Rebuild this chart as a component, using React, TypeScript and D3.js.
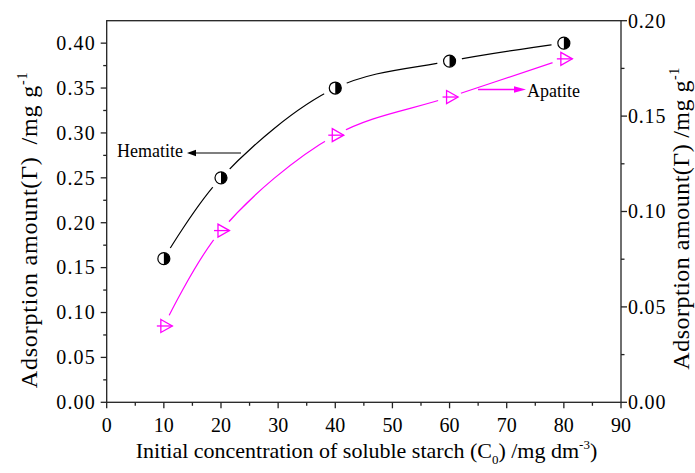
import React from "react";
import * as d3 from "d3";

const concentrations = [10, 20, 40, 60, 80];
const hematite = [0.16, 0.25, 0.35, 0.38, 0.4];
const apatite = [0.04, 0.09, 0.14, 0.16, 0.18];
const xTicks = [0, 10, 20, 30, 40, 50, 60, 70, 80, 90];
const leftTicks = [0, 0.05, 0.1, 0.15, 0.2, 0.25, 0.3, 0.35, 0.4];
const rightTicks = [0, 0.05, 0.1, 0.15, 0.2];

const W = 695;
const H = 473;
const L = 106.7;
const R = 621;
const T = 20.7;
const B = 402.3;
const FONT = "Liberation Serif, Times New Roman, serif";
const MAG = "#FF00FF";

export default function App() {
  const x = d3.scaleLinear().domain([0, 90]).range([L, R]);
  const yL = d3.scaleLinear().domain([0, 0.425]).range([B, T]);
  const yR = d3.scaleLinear().domain([0, 0.2]).range([B, T]);

  const xMinor = d3.range(5, 90, 10);
  const yLMinor = d3.range(0.025, 0.425, 0.05);
  const yRMinor = d3.range(0.025, 0.2, 0.05);

  const hemPts: [number, number][] = concentrations.map((c, i) => [x(c), yL(hematite[i])]);
  const apPts: [number, number][] = concentrations.map((c, i) => [x(c), yR(apatite[i])]);
  const hemPath = d3.line().curve(d3.curveCatmullRom.alpha(0.5))(hemPts) || "";
  const apPath = d3.line().curve(d3.curveCatmullRom.alpha(0.5))(apPts) || "";

  const axisColor = "#222";
  const r = 6;
  const ts: React.CSSProperties = { fontFamily: FONT };

  return (
    <svg width={W} height={H} style={{ position: "absolute", left: 0, top: 0, display: "block", background: "#fff", fontFamily: FONT }}>
      <defs>
        <mask id="mHem">
          <rect x={0} y={0} width={W} height={H} fill="white" />
          {hemPts.map((p, i) => (
            <circle key={i} cx={p[0]} cy={p[1]} r={12.5} fill="black" />
          ))}
        </mask>
        <mask id="mAp">
          <rect x={0} y={0} width={W} height={H} fill="white" />
          {apPts.map((p, i) => (
            <circle key={i} cx={p[0]} cy={p[1]} r={12} fill="black" />
          ))}
        </mask>
      </defs>
      <rect x={0} y={0} width={W} height={H} fill="#fff" />

      <path d={hemPath} fill="none" stroke="#000" strokeWidth={1.2} mask="url(#mHem)" />
      <path d={apPath} fill="none" stroke={MAG} strokeWidth={1.2} mask="url(#mAp)" />

      <rect x={L} y={T} width={R - L} height={B - T} fill="none" stroke={axisColor} strokeWidth={1.3} />

      {xTicks.map((t) => (
        <g key={"x" + t}>
          <line x1={x(t)} x2={x(t)} y1={B} y2={B + 6} stroke={axisColor} strokeWidth={1.3} />
          <text style={ts} x={x(t)} y={431.5} textAnchor="middle" fontSize={20} fill="#000">{t}</text>
        </g>
      ))}
      {xMinor.map((t) => (
        <line key={"xm" + t} x1={x(t)} x2={x(t)} y1={B} y2={B + 3.5} stroke={axisColor} strokeWidth={1.3} />
      ))}

      {leftTicks.map((t) => (
        <g key={"l" + t}>
          <line x1={L - 6} x2={L} y1={yL(t)} y2={yL(t)} stroke={axisColor} strokeWidth={1.3} />
          <text style={{ ...ts, letterSpacing: "1.2px" }} x={96} y={yL(t) + 6.8} textAnchor="end" fontSize={20} fill="#000">{t.toFixed(2)}</text>
        </g>
      ))}
      {yLMinor.map((t, i) => (
        <line key={"lm" + i} x1={L - 3.5} x2={L} y1={yL(t)} y2={yL(t)} stroke={axisColor} strokeWidth={1.3} />
      ))}

      {rightTicks.map((t) => (
        <g key={"r" + t}>
          <line x1={R} x2={R + 6} y1={yR(t)} y2={yR(t)} stroke={axisColor} strokeWidth={1.3} />
          <text style={{ ...ts, letterSpacing: "0.8px" }} x={628} y={yR(t) + 6.8} textAnchor="start" fontSize={20} fill="#000">{t.toFixed(2)}</text>
        </g>
      ))}
      {yRMinor.map((t, i) => (
        <line key={"rm" + i} x1={R} x2={R + 3.5} y1={yR(t)} y2={yR(t)} stroke={axisColor} strokeWidth={1.3} />
      ))}

      {hemPts.map((p, i) => (
        <g key={"hm" + i}>
          <circle cx={p[0]} cy={p[1]} r={r} fill="#fff" stroke="#000" strokeWidth={1.2} />
          <path d={`M${p[0]},${p[1] - r} A${r},${r} 0 0 1 ${p[0]},${p[1] + r} Z`} fill="#000" />
        </g>
      ))}

      {apPts.map((p, i) => (
        <g key={"am" + i} fill="none" stroke={MAG} strokeWidth={1.3}>
          <path d={`M${p[0] - 3},${p[1] - 6.5} L${p[0] + 8.5},${p[1]} L${p[0] - 3},${p[1] + 6.5} Z`} />
          <line x1={p[0] - 7} x2={p[0] + 8.5} y1={p[1]} y2={p[1]} />
        </g>
      ))}

      <text style={ts} x={117} y={157} fontSize={18} fill="#000">Hematite</text>
      <line x1={241} x2={194} y1={153} y2={153} stroke="#000" strokeWidth={1.2} />
      <path d="M187,153 L196,149.8 L196,156.2 Z" fill="#000" />

      <text style={ts} x={527} y={96.5} fontSize={18} fill="#000">Apatite</text>
      <line x1={478} x2={517} y1={89.5} y2={89.5} stroke={MAG} strokeWidth={1.5} />
      <path d="M526,89.5 L514,86.3 L514,92.7 Z" fill={MAG} />

      <text style={{ ...ts, letterSpacing: "0.8px" }} transform="translate(37,230) rotate(-90)" textAnchor="middle" fontSize={24} fill="#000">
        Adsorption amount(Γ)
        <tspan dx={12}>/mg g</tspan>
        <tspan fontSize={14} dy={-10}>-1</tspan>
      </text>
      <text style={{ ...ts, letterSpacing: "0.5px" }} transform="translate(689,218.5) rotate(-90)" textAnchor="middle" fontSize={24} fill="#000">
        Adsorption amount(Γ)
        <tspan dx={6}>/mg g</tspan>
        <tspan fontSize={14} dy={-10}>-1</tspan>
      </text>
      <text style={ts} x={366.5} y={458} textAnchor="middle" fontSize={22} fill="#000">
        Initial concentration of soluble starch (C
        <tspan fontSize={13} dy={6}>0</tspan>
        <tspan dy={-6}>) /mg dm</tspan>
        <tspan fontSize={13} dy={-9}>-3</tspan>
        <tspan dy={9}>)</tspan>
      </text>
    </svg>
  );
}
